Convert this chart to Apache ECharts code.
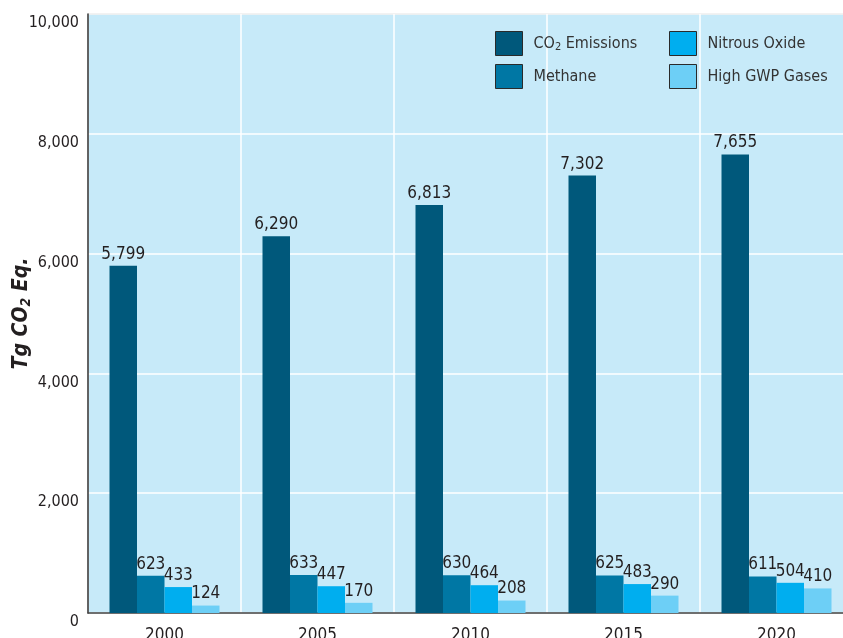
<!DOCTYPE html>
<html><head><meta charset="utf-8">
<script src="https://cdn.jsdelivr.net/npm/echarts@6/dist/echarts.min.js"></script>
<style>html,body{margin:0;padding:0;background:#fff}#c{width:843px;height:638px}</style>
</head><body><div id="c"></div>
<script>
const categories = ['2000', '2005', '2010', '2015', '2020'];
const co2Emissions = [5799, 6290, 6813, 7302, 7655];
const methane = [623, 633, 630, 625, 611];
const nitrousOxide = [433, 447, 464, 483, 504];
const highGwpGases = [124, 170, 208, 290, 410];
const yTicks = { min: 0, max: 10000, interval: 2000 };

const FONT = "'Liberation Sans Narrow', 'DejaVu Sans Condensed', sans-serif";
const fmt = v => Number(v).toLocaleString('en-US');
const colors = ['#00587b', '#0077a4', '#00aeef', '#6dcff6'];

function barSeries(name, data, color) {
  return {
    name, type: 'bar', data, barWidth: 27.5, barGap: '0%',
    itemStyle: { color },
    label: { show: true, position: 'top', distance: 3, color: '#231f20',
      fontFamily: FONT, fontSize: 17, formatter: p => fmt(p.value) }
  };
}
const legendCommon = {
  orient: 'vertical', itemWidth: 27, itemHeight: 24, itemGap: 8, padding: 0,
  icon: 'rect',
  itemStyle: { borderColor: '#2a2a2a', borderWidth: 1 },
  textStyle: { fontFamily: FONT, fontSize: 16, color: '#333', padding: [0,0,0,6],
    rich: { a: { fontFamily: FONT, fontSize: 16, color: '#333' },
            sub: { fontFamily: FONT, fontSize: 11, color: '#333', verticalAlign: 'bottom', padding: [8,0,0,0] } } },
  formatter: n => n === 'CO2 Emissions' ? '{a|CO}{sub|2}{a| Emissions}' : n
};
const chart = echarts.init(document.getElementById('c'));
chart.setOption({
  animation: false,
  color: colors,
  grid: { left: 88, right: -10, top: 14, bottom: 25, show: true, containLabel: false,
    outerBoundsMode: 'none',
    backgroundColor: '#c7eaf9', borderColor: '#999', borderWidth: 1 },
  legend: [
    Object.assign({}, legendCommon, { left: 495, top: 31, data: ['CO2 Emissions', 'Methane'] }),
    Object.assign({}, legendCommon, { left: 669, top: 31, data: ['Nitrous Oxide', 'High GWP Gases'] })
  ],
  xAxis: {
    type: 'category', data: categories,
    axisLine: { lineStyle: { color: '#444', width: 1.5 } },
    axisTick: { show: false },
    axisLabel: { fontFamily: FONT, fontSize: 17, color: '#231f20', margin: 14 },
    splitLine: { show: true, lineStyle: { color: '#ffffff', width: 1.5 } }
  },
  yAxis: {
    type: 'value', min: yTicks.min, max: yTicks.max, interval: yTicks.interval,
    axisLine: { show: true, lineStyle: { color: '#333', width: 1.5 } },
    axisTick: { show: false },
    axisLabel: { fontFamily: FONT, fontSize: 16, color: '#231f20', margin: 9,
      verticalAlign: 'top', padding: [1, 0, 0, 0], formatter: v => fmt(v) },
    splitLine: { lineStyle: { color: '#ffffff', width: 1.5 } },
    name: '{b|Tg CO}{s|2}{b| Eq.}',
    nameLocation: 'middle', nameGap: 55, nameRotate: 90, nameMoveOverlap: false,
    nameTextStyle: { rich: {
      b: { fontFamily: FONT, fontSize: 21, fontWeight: 'bold', fontStyle: 'italic', color: '#231f20' },
      s: { fontFamily: FONT, fontSize: 14, fontWeight: 'bold', fontStyle: 'italic', color: '#231f20', verticalAlign: 'bottom', padding: [8,0,0,0] } } }
  },
  series: [
    barSeries('CO2 Emissions', co2Emissions, colors[0]),
    barSeries('Methane', methane, colors[1]),
    barSeries('Nitrous Oxide', nitrousOxide, colors[2]),
    barSeries('High GWP Gases', highGwpGases, colors[3])
  ]
});
</script></body></html>
